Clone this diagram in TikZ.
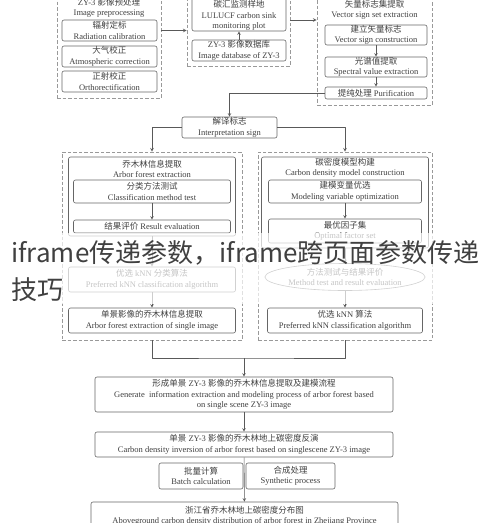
\documentclass[tikz,border=0pt]{standalone}
\usepackage{fontspec}
\setmainfont{Liberation Serif}
\newfontfamily\cjk{Noto Sans CJK SC}
\newcommand{\zh}[1]{{\cjk #1}}
\usetikzlibrary{arrows,calc,shapes.geometric,positioning}

\begin{document}
\begin{tikzpicture}[x=1pt,y=-1pt,line join=round,>=stealth,semithick]
\tikzset{every node/.style={font=\fontsize{8.5}{10.5}\selectfont,text=black!75,align=center,inner sep=0pt}}
\tikzset{box/.style={draw=black!60,rounded corners=2pt},
  grp/.style={draw=black!40,line width=0.9pt,dash pattern=on 3.5pt off 2pt},
  conn/.style={draw=black!65,->}}
\fill[white] (0,0) rectangle (490,523);
\clip (0,0) rectangle (490,523);
% image preprocessing
\node[grp,minimum width=104,minimum height=112] (pregrp) at (109,42) {};
\node (pretit) at (109,8) {ZY-3 \zh{影像预处理}\\Image preprocessing};
\foreach \nm/\yy/\cn/\en in {rad/30.5/辐射定标/Radiation calibration,
  atm/56.5/大气校正/Atmospheric correction,ortho/81.5/正射校正/Orthorectification}
\node[box,minimum width=95,minimum height=21] (\nm) at (109.5,\yy) {\zh{\cn}\\\en};
% sample plots
\node[grp,minimum width=103,minimum height=80] (midgrp) at (238.5,26) {};
\node[box,minimum width=94,minimum height=43] (plot) at (239,9.5) {};
\node (plottxt) at (239,15.5) {\zh{碳汇监测样地}\\LULUCF carbon sink\\monitoring plot};
\node[box,minimum width=94,minimum height=21] (db) at (239,50.5) {ZY-3 \zh{影像数据库}\\Image database of ZY-3};
% vector signs
\node[grp,minimum width=115,minimum height=119] (vecgrp) at (374.5,45.5) {};
\node (vectit) at (374.5,10) {\zh{矢量标志集提取}\\Vector sign set extraction};
\node[box,minimum width=102,minimum height=20] (vcons) at (376,35) {\zh{建立矢量标志}\\Vector sign construction};
\node[box,minimum width=102,minimum height=20] (spec) at (376,67) {\zh{光谱值提取}\\Spectral value extraction};
\node[box,minimum width=102,minimum height=12] (pur) at (376,93) {\zh{提纯处理} Purification};
\node[box,minimum width=95,minimum height=21] (interp) at (229.5,127.5) {\zh{解译标志}\\Interpretation sign};
% arbor forest extraction
\node[grp,minimum width=180,minimum height=188] (leftgrp) at (152,246) {};
\node[box,minimum width=167,minimum height=79] (arbor) at (152,196.5) {};
\node (arbortit) at (152,169) {\zh{乔木林信息提取}\\Arbor forest extraction};
\node[box,minimum width=157,minimum height=23] (cls) at (152,191.5) {\zh{分类方法测试}\\Classification method test};
\node[box,minimum width=157,minimum height=13] (res) at (152,226.5) {\zh{结果评价} Result evaluation};
\node[box,minimum width=167,minimum height=25] (pknnL) at (152,279.5) {\zh{优选} kNN \zh{分类算法}\\Preferred kNN classification algorithm};
\node[box,minimum width=167,minimum height=25] (single) at (152,320.5) {\zh{单景影像的乔木林信息提取}\\Arbor forest extraction of single image};
% carbon density model
\node[grp,minimum width=174,minimum height=188] (rightgrp) at (345,246) {};
\node[box,minimum width=167,minimum height=91] (cdm) at (345,202.5) {};
\node (cdmtit) at (345,168) {\zh{碳密度模型构建}\\Carbon density model construction};
\node[box,minimum width=153,minimum height=23] (var) at (345,191.5) {\zh{建模变量优选}\\Modeling variable optimization};
\node[box,minimum width=153,minimum height=24] (opt) at (345,231) {\zh{最优因子集}\\Optimal factor set};
\node[draw=black!60,ellipse,minimum width=142,minimum height=27] (ell) at (345,277) {\zh{方法测试与结果评价}\\Method test and result evaluation};
\node[box,minimum width=155,minimum height=25] (pknnR) at (345,320.5) {\zh{优选} kNN \zh{算法}\\Preferred kNN classification algorithm};
% lower chain
\node[box,minimum width=298,minimum height=35] (gen) at (244,394.5) {\zh{形成单景} ZY-3 \zh{影像的乔木林信息提取及建模流程}\\Generate\ \ information extraction and modeling process of arbor forest based\\on single scene ZY-3 image};
\node[box,minimum width=298,minimum height=25] (inv) at (244,444.5) {\zh{单景} ZY-3 \zh{影像的乔木林地上碳密度反演}\\Carbon density inversion of arbor forest based on singlescene ZY-3 image};
\node[box,minimum width=84,minimum height=26] (batch) at (201,476) {\zh{批量计算}\\Batch calculation};
\node[box,minimum width=89,minimum height=26] (syn) at (290.5,476) {\zh{合成处理}\\Synthetic process};
\node[box,minimum width=307,minimum height=28] (zj) at (244.5,516) {\zh{浙江省乔木林地上碳密度分布图}\\Aboveground carbon density distribution of arbor forest in Zhejiang Province};
% connectors
\draw[conn] (rad.east -| pregrp.east) -- (rad.east -| midgrp.west);
\coordinate (m1) at ($(midgrp.east)+(0,-6)$);
\draw[conn] (m1) -- (m1 -| vecgrp.west);
\draw[conn] (db) -- (plot);
\draw[conn] (vcons) -- (spec);
\draw[conn] (spec) -- (pur);
\draw[conn] (pur.west) -| (interp.north);
\draw[conn] (interp.west) -| (leftgrp.north);
\draw[conn] (interp.east) -| (rightgrp.north);
\draw[conn] (cls) -- (res);
\draw[conn] (arbor) -- (pknnL);
\draw[conn] (pknnL) -- (single);
\draw[conn] (var) -- (opt);
\draw[conn] (cdm) -- (ell);
\draw[conn] (ell) -- (pknnR);
\coordinate (join) at (244,358);
\draw[draw=black!65] (leftgrp.south) |- (join) -| (rightgrp.south);
\draw[conn] (join) -- (gen);
\draw[conn] (gen) -- (inv);
\draw[conn] (inv) -- (zj);
% overlay text
\fill[white,opacity=0.7] (0,233) rectangle (490,304);
\node[anchor=north west,align=left,font=\cjk\fontsize{26}{37}\selectfont,text=black!75] (wm) at (11,240) {iframe传递参数，iframe跨页面参数传递\\技巧};
\end{tikzpicture}
\end{document}
